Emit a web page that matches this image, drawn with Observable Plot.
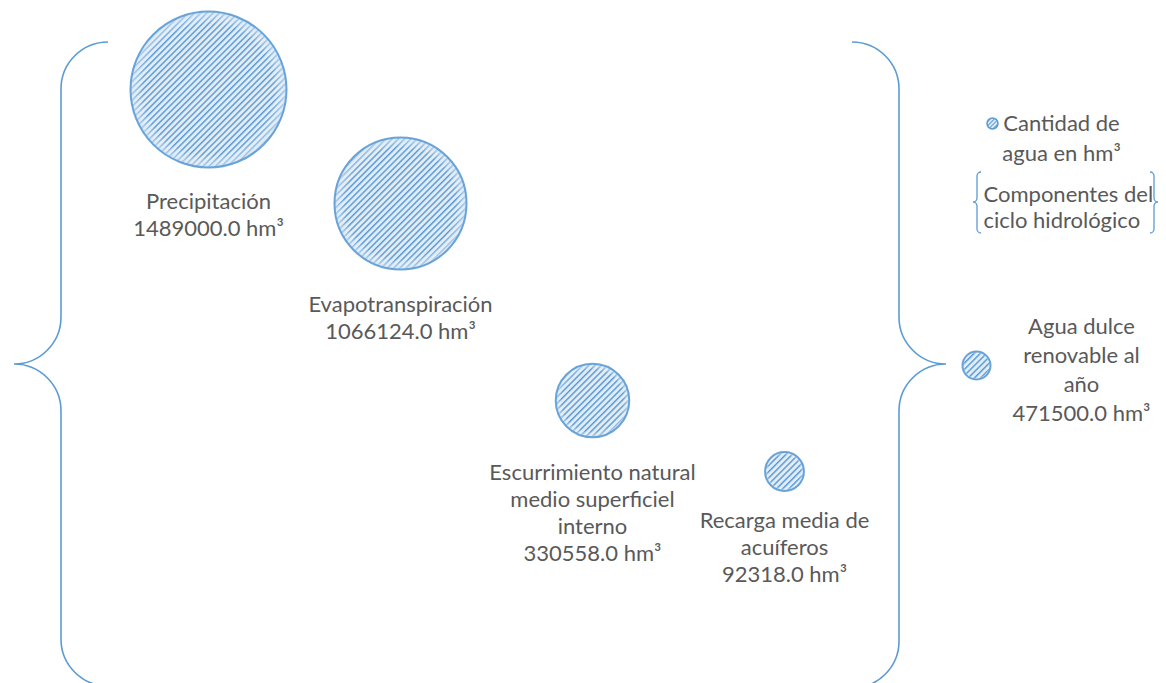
<!DOCTYPE html>
<html><head><meta charset="utf-8">
<script src="https://cdn.jsdelivr.net/npm/d3@7"></script>
<script src="https://cdn.jsdelivr.net/npm/@observablehq/plot@0.6"></script>
<style>body{margin:0;background:#fff;} #chart{width:1166px;height:683px;overflow:hidden;}</style>
</head><body><div id="chart"></div>
<script>
// ---- data ----
const categories = ["Precipitación", "Evapotranspiración", "Escurrimiento natural medio superficiel interno", "Recarga media de acuíferos"];
const labelLines = [["Precipitación"], ["Evapotranspiración"], ["Escurrimiento natural", "medio superficiel", "interno"], ["Recarga media de", "acuíferos"]];
const values = [1489000.0, 1066124.0, 330558.0, 92318.0];
const totalName = ["Agua dulce", "renovable al", "año"];
const totalValue = 471500.0;
const unit = "hm³";
const legendBubbleText = ["Cantidad de", "agua en hm³"];
const legendBraceText = ["Componentes del", "ciclo hidrológico"];

// ---- diagram layout (pixel layout space) ----
const bubbleX = [208, 400, 592, 784];
const bubbleY = [89, 203, 400, 471];
const labelTop = [189, 292, 460, 508];
const totalPos = {x: 976, y: 365, r: 14, labelX: 1081, labelTop: 313};
const legendPos = {dotX: 992, dotY: 123, textX: 1061, textTop: 109, braceTextX: 983, braceTextTop: 183};

const W = 1166, H = 683;
const blue = "#5B9BD5";
const textColor = "#595959";
const fmt = d3.format(".1f");
const lh = 27;

const rows = categories.map((c, i) => ({
  name: c, value: values[i], x: bubbleX[i], y: bubbleY[i],
  label: labelLines[i].concat([fmt(values[i]) + " " + unit]).join("\n"),
  ly: labelTop[i]
}));
const total = [{value: totalValue, x: totalPos.x, y: totalPos.y,
  label: totalName.concat([fmt(totalValue) + " " + unit]).join("\n"), lx: totalPos.labelX, ly: totalPos.labelTop}];

const font = "Lato, 'Open Sans', sans-serif";
const fs = 22;

const plot = Plot.plot({
  width: W, height: H,
  margin: 0,
  x: {domain: [0, W], range: [0, W], axis: null},
  y: {domain: [0, H], range: [0, H], axis: null},
  r: {type: "sqrt", domain: [0, d3.max(values)], range: [0, 78]},
  style: {fontFamily: font, background: "white"},
  marks: [
    Plot.dot(rows, {x: "x", y: "y", r: "value", fill: "url(#hatch)", stroke: "none"}),
    Plot.dot(rows, {x: "x", y: "y", r: "value", fill: "url(#glow)", stroke: blue, strokeWidth: 2, strokeOpacity: 0.9}),
    Plot.text(rows, {x: "x", y: "ly", text: "label", lineAnchor: "top", lineHeight: lh / fs, fontSize: fs, fill: textColor}),
    Plot.dot(total, {x: "x", y: "y", r: totalPos.r, fill: "url(#hatch)", stroke: "none"}),
    Plot.dot(total, {x: "x", y: "y", r: totalPos.r, fill: "url(#glow)", stroke: blue, strokeWidth: 2, strokeOpacity: 0.9}),
    Plot.text(total, {x: "lx", y: "ly", text: "label", lineAnchor: "top", lineHeight: 29 / fs, fontSize: fs, fill: textColor}),
    // legend
    Plot.dot([legendPos], {x: "dotX", y: "dotY", r: 5.5, fill: "url(#hatchSmall)", stroke: blue, strokeWidth: 1.5}),
    Plot.text([legendPos], {x: "textX", y: "textTop", text: () => legendBubbleText.join("\n"), lineAnchor: "top", lineHeight: 30 / fs, fontSize: fs, fill: textColor}),
    Plot.text([legendPos], {x: "braceTextX", y: "braceTextTop", text: () => legendBraceText.join("\n"), textAnchor: "start", lineAnchor: "top", lineHeight: 26 / fs, fontSize: fs, fill: textColor})
  ]
});

// pattern defs
const svg = d3.select(plot);
const defs = svg.insert("defs", ":first-child");
function hatch(id, size, sw) {
  const p = defs.append("pattern").attr("id", id).attr("patternUnits", "userSpaceOnUse")
    .attr("width", size).attr("height", size).attr("patternTransform", "rotate(45)");
  p.append("rect").attr("width", size).attr("height", size).attr("fill", "#E2EDF8");
  p.append("line").attr("x1", sw / 2).attr("y1", 0).attr("x2", sw / 2).attr("y2", size)
    .attr("stroke", blue).attr("stroke-width", sw);
}
hatch("hatch", 4.4, 1.5);
hatch("hatchSmall", 3, 1.1);
const g = defs.append("radialGradient").attr("id", "glow");
g.append("stop").attr("offset", "0%").attr("stop-color", "#ffffff").attr("stop-opacity", 0);
g.append("stop").attr("offset", "84%").attr("stop-color", "#ffffff").attr("stop-opacity", 0);
g.append("stop").attr("offset", "100%").attr("stop-color", "#D2E3F4").attr("stop-opacity", 0.7);

// braces, drawn in the plot's own coordinate space
const xs = plot.scale("x"), ys = plot.scale("y");
function bracePath(xV, yTop, yBot, yMid, r, s) {
  const X = v => xs.apply(v), Y = v => ys.apply(v);
  const sw1 = s < 0 ? 0 : 1, sw2 = s < 0 ? 1 : 0;
  return `M${X(xV - s * r)},${Y(yTop)} A${r},${r} 0 0 ${sw1} ${X(xV)},${Y(yTop + r)}` +
    ` L${X(xV)},${Y(yMid - r)} A${r},${r} 0 0 ${sw2} ${X(xV + s * r)},${Y(yMid)}` +
    ` A${r},${r} 0 0 ${sw2} ${X(xV)},${Y(yMid + r)} L${X(xV)},${Y(yBot - r)}` +
    ` A${r},${r} 0 0 ${sw1} ${X(xV - s * r)},${Y(yBot)}`;
}
const braces = [
  {xV: 61, yTop: 42, yBot: 686, yMid: 364, r: 47, s: -1, w: 1.6},
  {xV: 899, yTop: 42, yBot: 688, yMid: 364, r: 47, s: 1, w: 1.6},
  {xV: 977, yTop: 172, yBot: 233, yMid: 202, r: 4, s: -1, w: 1.3},
  {xV: 1154, yTop: 172, yBot: 233, yMid: 202, r: 4, s: 1, w: 1.3}
];
svg.insert("g", "defs + *").selectAll("path").data(braces).join("path")
  .attr("d", d => bracePath(d.xV, d.yTop, d.yBot, d.yMid, d.r, d.s))
  .attr("fill", "none").attr("stroke", blue).attr("stroke-width", d => d.w);

document.getElementById("chart").appendChild(plot);
</script></body></html>
